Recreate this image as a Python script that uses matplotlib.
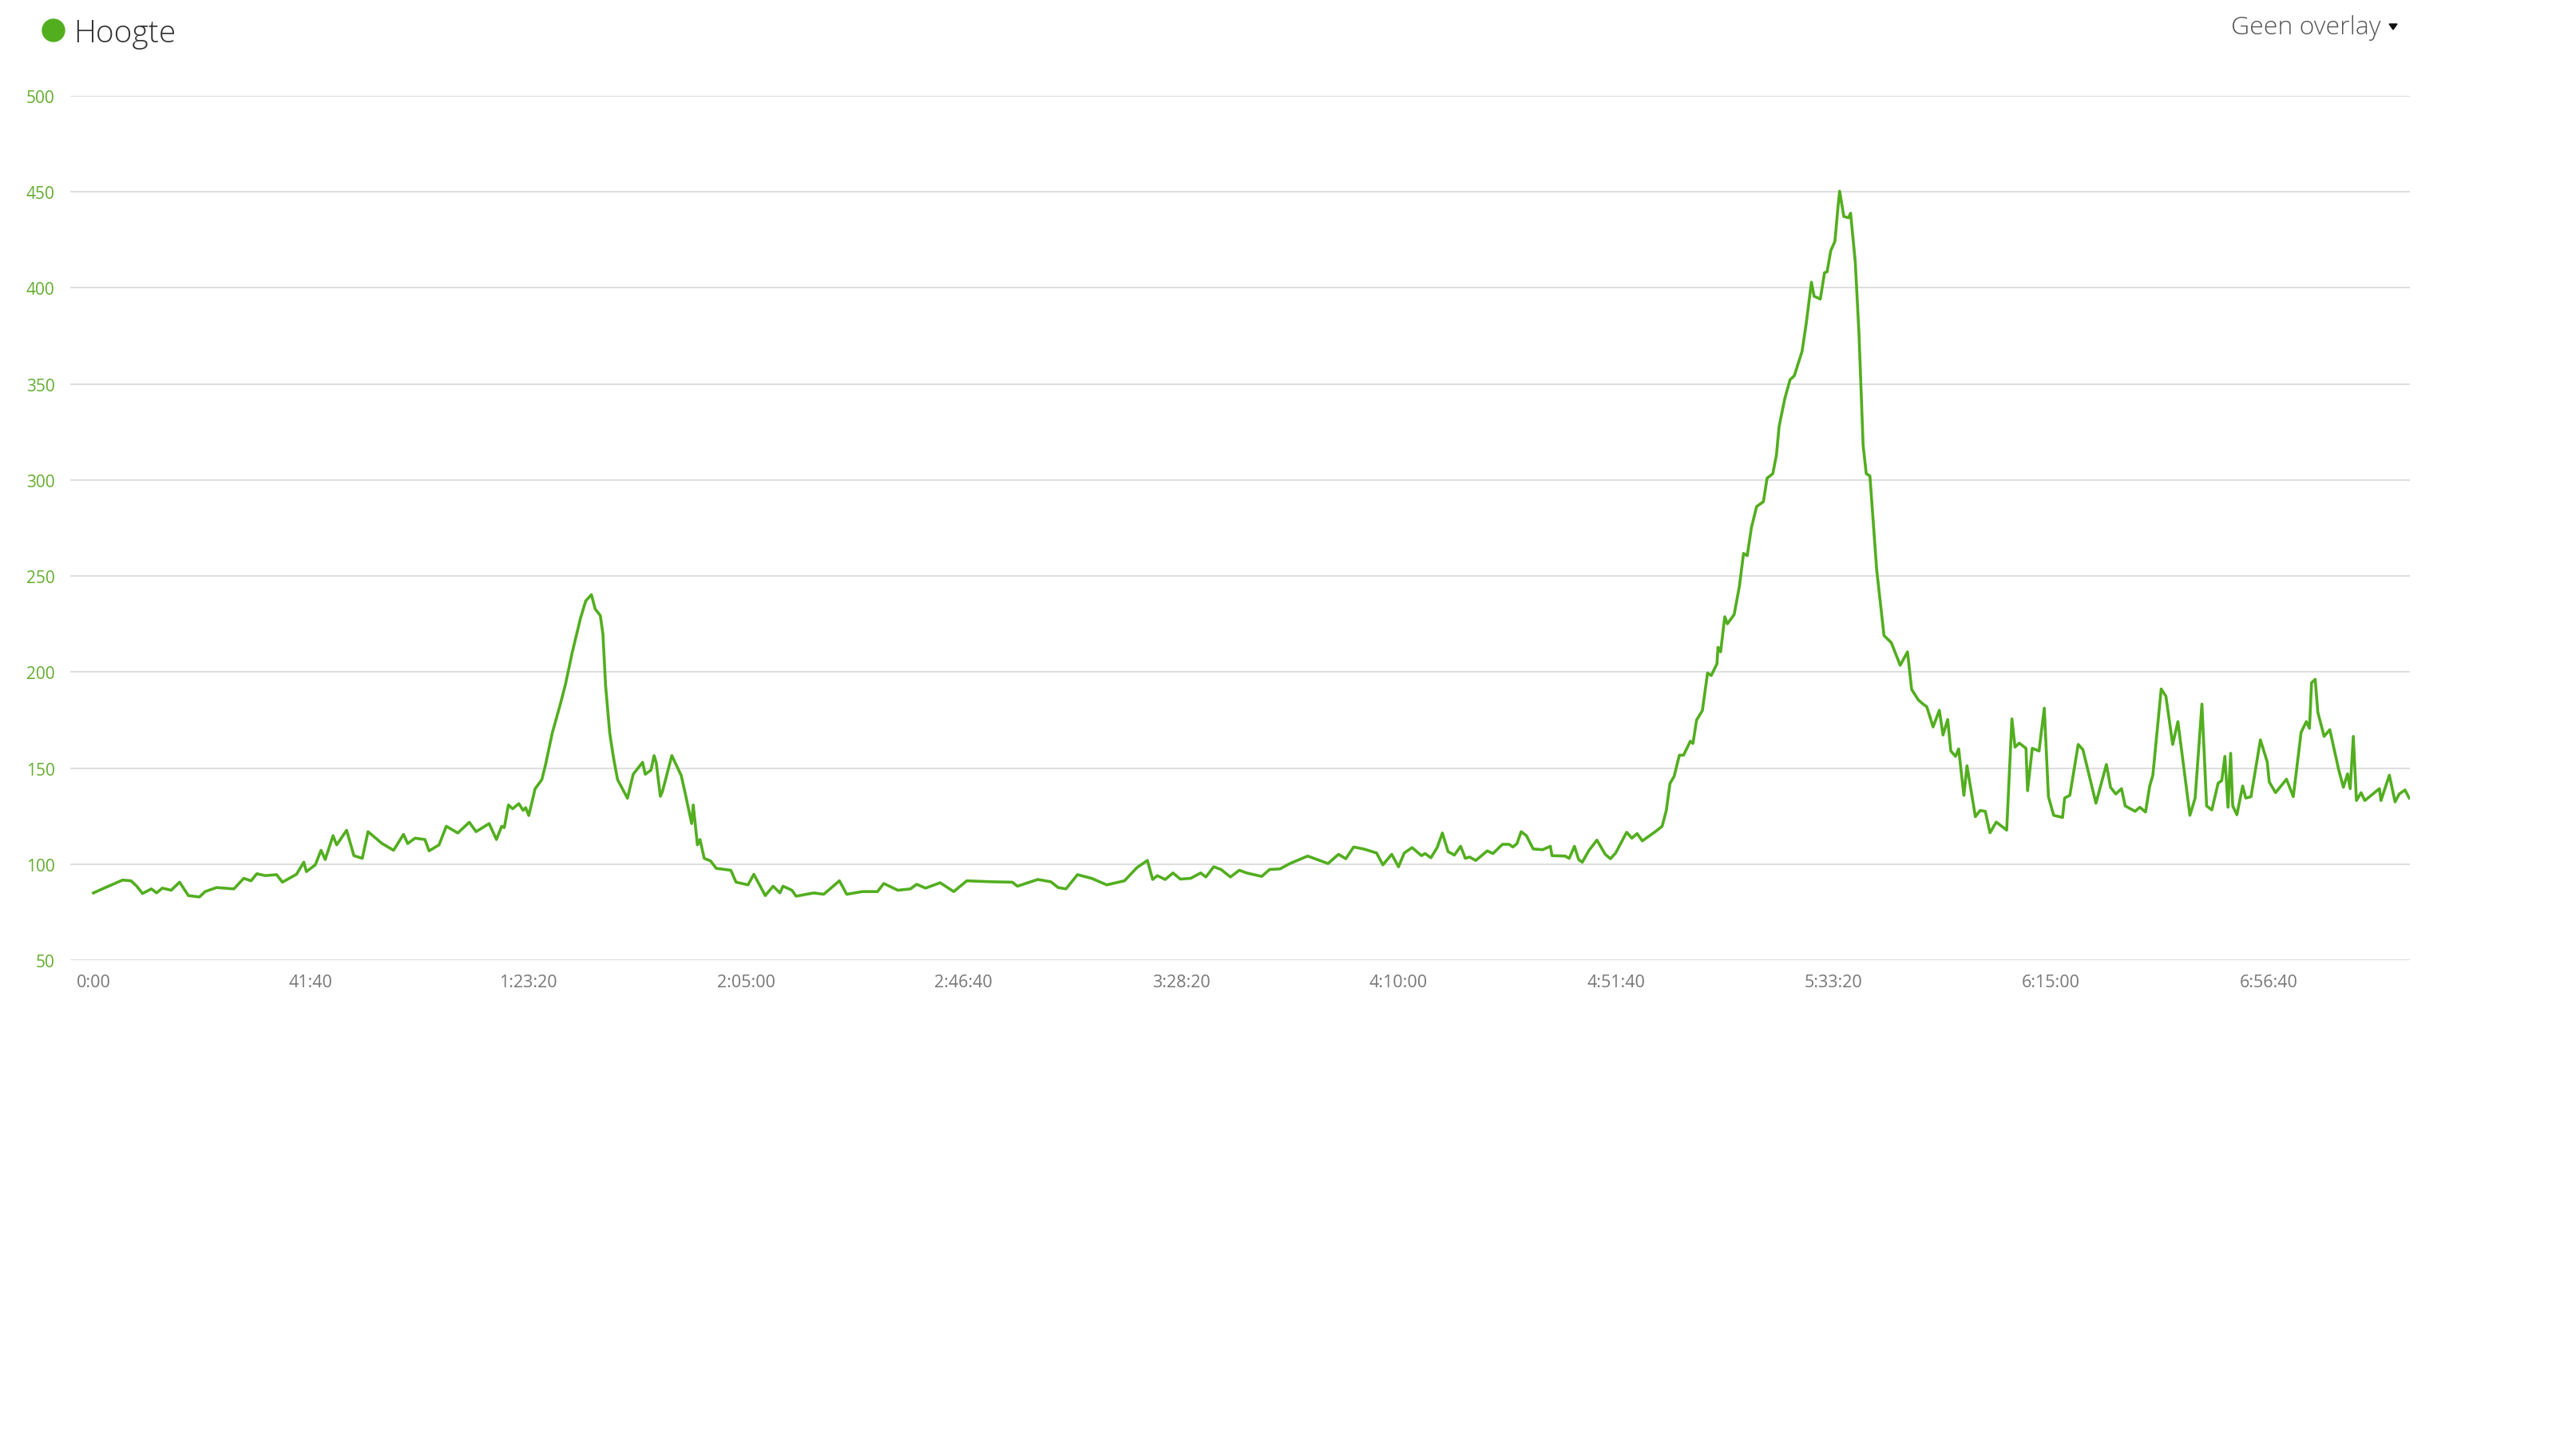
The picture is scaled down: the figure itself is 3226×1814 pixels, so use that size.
import matplotlib
matplotlib.use("Agg")
import matplotlib.pyplot as plt
from matplotlib.patches import Ellipse, Polygon
from matplotlib.ticker import FuncFormatter

# ---------------- data (elapsed minutes, elevation in m) ----------------
time_min = [
    0, 2.3, 5.6, 7.2, 8.3, 9.4, 11.1, 12.1, 13.2, 14.9, 16.5, 18.2, 20.3, 21.4,
    23.6, 26.9, 28.8, 30.2, 31.3, 32.9, 35.1, 36.2, 38.9, 40.3, 40.8, 42.5, 43.6,
    44.4, 45.9, 46.6, 48.5, 49.9, 51.5, 52.6, 55.3, 57.5, 59.4, 60.2, 61.6, 63.5,
    64.3, 66.2, 67.6, 69.8, 72.0, 73.3, 75.8, 77.2,
    78.2, 78.7, 79.5, 80.3, 81.5, 82.3, 82.8, 83.4, 84.6, 85.9, 86.6, 87.9, 89.4,
    90.4, 91.7, 93.3, 94.3, 95.4, 96.1, 97.1, 97.6, 98.1, 98.9, 99.6, 100.4, 102.3,
    103.4, 105.2, 105.7, 106.8, 107.4, 107.8, 108.6, 109.0, 110.8, 112.6, 113.4,
    114.6, 114.9, 115.7, 116.2, 117.0, 118.2, 119.3, 122.1, 123.1, 125.4, 126.5,
    128.7, 130.2, 131.5, 132.1, 133.8, 134.6,
    138.0, 139.9, 142.9, 144.3, 147.3, 150.2, 151.4, 154.1, 156.5, 157.7, 159.4,
    162.2, 164.8, 167.3, 172.1, 176.0, 177.0, 180.9, 183.4, 184.8, 186.3, 188.5,
    191.2, 194.1, 197.5, 199.9, 201.9, 202.9, 203.8, 205.3, 206.8, 208.2, 210.2,
    212.1, 213.1, 214.6, 216.0, 217.8, 219.5, 220.9, 223.8, 225.3, 227.3, 229.2,
    232.6, 236.5, 238.5, 239.9, 241.4, 243.3, 245.8, 247.0, 248.7, 250.0, 251.1,
    252.6,
    254.4, 255.1, 256.2, 257.4, 258.4, 259.5, 260.7, 261.9, 262.8, 263.6, 264.8,
    267.0, 268.1, 269.9, 271.2, 271.9, 272.7, 273.5, 274.5, 275.8, 277.6, 279.1,
    279.4, 281.9, 282.7, 283.7, 284.5, 285.2, 286.5, 288.0, 289.6, 290.6, 291.6,
    293.7, 294.7, 295.7, 296.7, 299.2, 300.5, 301.3,
    302.0, 302.8, 303.8, 304.6, 305.9, 306.4, 307.1, 308.2, 309.2, 309.9, 311.0,
    311.2, 311.7, 312.5, 313.0, 314.3, 315.3, 316.1, 316.8, 317.6, 318.6, 319.9,
    320.6, 321.7, 322.4, 322.9, 324.0, 325.0, 325.8, 327.3, 328.1, 329.1, 329.6,
    330.8, 331.6, 332.1, 332.8, 333.6, 334.2, 334.5, 335.3, 336.2, 336.6, 337.5,
    338.2, 339.0, 339.6, 340.3, 341.6, 343.0, 344.4,
    346.1, 347.5, 348.3, 349.6, 350.5, 351.2, 352.4, 353.6, 354.3, 355.2, 355.8,
    356.7, 357.3, 358.3, 358.9, 360.5, 361.4, 362.4, 363.3, 364.5, 366.5, 367.5,
    368.1, 368.9, 370.2, 370.5, 371.4, 372.7, 373.7, 374.5, 375.5, 377.2, 377.6,
    378.6, 380.2, 381.1, 383.6, 385.6, 386.4, 387.4, 388.5, 389.2, 391.1, 392.0,
    393.1, 393.9, 394.5, 396.1, 397.0, 398.3, 399.3, 401.6, 402.6, 403.9, 404.8,
    405.8, 407.0, 407.7, 408.3, 408.9, 409.4, 409.8, 410.6, 411.7, 412.3, 413.3,
    415.1, 416.4, 416.8, 418.0, 420.1, 421.4, 422.9, 423.9, 424.5, 424.9, 425.6,
    426.1, 427.3, 428.4, 430.1, 431.0, 431.8, 432.3, 432.9, 433.5, 434.4, 435.1,
    437.9, 438.2, 439.8, 440.9, 441.7, 442.8, 443.6,
]
elevation_m = [
    85.0, 87.8, 91.7, 91.3, 88.5, 84.7, 87.1, 85.0, 87.5, 86.4, 90.6, 83.6, 82.9,
    85.7, 87.8, 87.1, 92.6, 91.3, 95.0, 94.0, 94.5, 90.6, 94.7, 101, 96.1, 99.6,
    107.2, 102.4, 114.8, 110, 117.6, 104.4, 103, 116.9, 110.7, 107.2, 115.5, 110.7,
    113.5, 112.8, 106.9, 110, 119.7, 116.2, 121.8, 116.9, 121.1, 112.8,
    119.7, 119, 130.8, 128.8, 131.5, 128, 129.4, 125.3, 139.2, 144, 151.7, 168.3,
    182.9, 193.3, 210, 228, 237, 240.3, 232.9, 229.4, 219.7, 193.3, 168.3, 155.8,
    144, 134.3, 146.8, 153, 146.8, 148.9, 156.5, 153, 135.3, 137.8, 156.5, 146.1,
    136.4, 121.1, 130.8, 110, 112.8, 103, 101.7, 97.8, 96.8, 90.6, 89.2, 94.7,
    83.6, 88.5, 85, 88.5, 86.4, 83.3,
    85, 84.3, 91.3, 84.3, 85.7, 85.7, 89.9, 86.4, 87.1, 89.5, 87.5, 90.3, 85.7,
    91.3, 90.8, 90.6, 88.5, 92, 90.8, 87.8, 87.1, 94.5, 92.6, 89.2, 91.3, 98.2,
    101.9, 92, 94, 92, 95.4, 92.2, 92.6, 95.4, 93.3, 98.6, 97.2, 93.3, 96.8, 95.4,
    93.6, 97.2, 97.5, 100.3, 104.2, 100.3, 105.1, 102.8, 108.9, 107.9, 105.8,
    99.6, 105.1, 98.6, 105.8, 108.6,
    104.4, 105.5, 103.3, 108.6, 116.2, 106.5, 104.7, 109.3, 103, 103.7, 101.9,
    106.9, 105.5, 110.3, 110.3, 108.9, 110.7, 116.9, 114.8, 107.9, 107.5, 109.3,
    104.4, 104.2, 103, 109.3, 102.4, 101, 107.2, 112.5, 105.1, 102.8, 105.8,
    116.6, 113.5, 115.9, 112.1, 116.9, 119.7, 128,
    142, 145.7, 156.7, 156.7, 164, 162.8, 175, 179.9, 199.5, 198.2, 204.3, 212.9,
    210.5, 228.8, 225.1, 230, 244.7, 261.8, 260.6, 275.2, 286.2, 288.7, 300.9,
    303.3, 313.1, 327.8, 342.4, 352.2, 354.2, 366.9, 381.5, 403, 395.7, 394.2,
    407.9, 408.4, 419.4, 424.3, 442.6, 450.4, 437.2, 436.5, 438.9, 413.3, 376.6,
    318, 303.3, 302.1, 253.2, 219, 215.3,
    203.5, 210.5, 190.9, 185.4, 183.3, 181.9, 171.4, 180.1, 167.2, 175.3, 158.9,
    156.1, 160, 135.8, 151.2, 124.7, 127.9, 127.5, 116.3, 121.9, 117.7, 175.6,
    160.9, 163, 160.3, 138.2, 160.3, 158.9, 181.2, 135.1, 125.4, 124.3, 134.4,
    135.8, 162.3, 159.6, 131.7, 151.9, 140, 136.5, 139.3, 130.3, 127.5, 129.6,
    127.1, 140.7, 146.3, 191.2, 187.4, 162.3, 174.2, 125.4, 134.4, 183.3, 130.3,
    128.2, 142.1, 143.5, 156.1, 129.6, 157.7, 130.3, 125.7, 140.7, 134.4, 135.1,
    164.7, 153.3, 142.8, 137.2, 144.2, 135.1, 168.6, 174.2, 170.7, 194.4, 196.2,
    179.1, 166.5, 170, 149.1, 140, 147, 139.3, 166.5, 133.1, 137.2, 133.1,
    139.3, 133.1, 146.3, 132.4, 136.5, 138.6, 134.4,
]
y_ticks = [50, 100, 150, 200, 250, 300, 350, 400, 450, 500]
x_tick_seconds = [0, 2500, 5000, 7500, 10000, 12500, 15000, 17500, 20000, 22500, 25000]
series_label = "Hoogte"
overlay_label = "Geen overlay"

# ---------------- styling ----------------
W, H = 3226, 1815
LINE_GREEN = "#52ae1f"
TICK_GREEN = "#63ad2f"
GRID = "#dedede"
FONT = ["Open Sans", "DejaVu Sans"]
plt.rcParams["font.family"] = FONT

fig = plt.figure(figsize=(W / 100, H / 100), dpi=100)
fig.patch.set_facecolor("white")

def fx(px):
    return px / W

def fy(py):
    return 1 - py / H

ax_left, ax_right = 88, 3018
ax_top, ax_bottom = 121, 1203
ax = fig.add_axes([fx(ax_left), fy(ax_bottom), fx(ax_right - ax_left), (ax_bottom - ax_top) / H])

t_sec = [t * 60 for t in time_min]
ax.plot(t_sec, elevation_m, color=LINE_GREEN, lw=2.6, solid_joinstyle="round", zorder=3)

# x range: grid extends slightly left of the first sample
sec_per_px = 2500 / 272.4
ax.set_xlim(-(117 - ax_left) * sec_per_px, (ax_right - 117) * sec_per_px)
ax.set_ylim(50, 500)
ax.set_yticks(y_ticks)
ax.set_xticks(x_tick_seconds)

def fmt_time(s, pos=None):
    s = int(round(s))
    h, rem = divmod(s, 3600)
    m, sec = divmod(rem, 60)
    if h > 0:
        return f"{h}:{m:02d}:{sec:02d}"
    return f"{m}:{sec:02d}"

ax.xaxis.set_major_formatter(FuncFormatter(fmt_time))
ax.grid(axis="y", color=GRID, lw=1.4, zorder=0)
ax.grid(axis="x", visible=False)
for sp in ax.spines.values():
    sp.set_visible(False)
ax.tick_params(axis="both", length=0)
ax.tick_params(axis="y", colors=TICK_GREEN, labelsize=15, pad=14)
ax.tick_params(axis="x", colors="#777777", labelsize=15.5, pad=12)
for lbl in ax.get_yticklabels():
    lbl.set_color(TICK_GREEN)
ax.set_facecolor("white")

# legend-like header
fig.patches.append(Ellipse((fx(67), fy(39)), width=28 / W, height=28 / H,
                           transform=fig.transFigure, color=LINE_GREEN, zorder=5))
fig.text(fx(92), fy(53), series_label, fontsize=28, color="#333333",
         fontweight="light", ha="left", va="baseline")

fig.text(fx(2982), fy(43), overlay_label, fontsize=23, color="#555555",
         fontweight="light", ha="right", va="baseline")
fig.patches.append(Polygon([(fx(2992), fy(31)), (fx(3002), fy(31)), (fx(2997), fy(38))],
                           closed=True, transform=fig.transFigure, color="#111111"))

fig.savefig("out.png", dpi=100, facecolor="white")
